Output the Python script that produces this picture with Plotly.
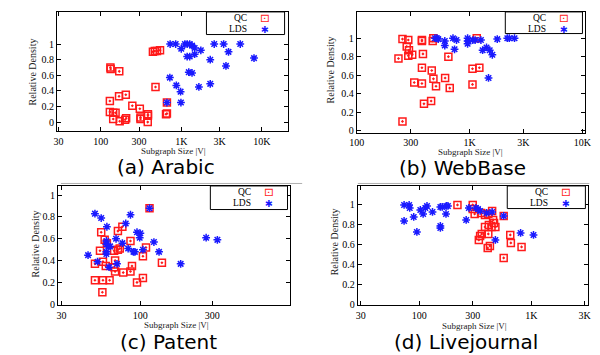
import plotly.graph_objects as go

# ---------------- data ----------------
x_tickvals = [30, 100, 300, 1000, 3000, 10000]
x_ticktext = ["30", "100", "300", "1K", "3K", "10K"]
y_tickvals = [0, 0.2, 0.4, 0.6, 0.8, 1]
y_ticktext = ["0", "0.2", "0.4", "0.6", "0.8", "1"]

arabic_qc_x = [445, 470, 500, 545, 132, 133, 170, 479, 130, 169, 205, 247, 306, 130, 143, 153,
               143, 172, 201, 207, 312, 312, 386, 386, 384, 664, 647, 664]
arabic_qc_y = [0.90, 0.91, 0.91, 0.92, 0.70, 0.68, 0.65, 0.45, 0.27, 0.33, 0.35, 0.21, 0.17, 0.13,
               0.12, 0.12, 0.04, 0.01, 0.03, 0.05, 0.06, 0.04, 0.08, 0.10, 0.0, 0.11, 0.10, 0.25]
arabic_lds_x = [728, 853, 1000, 1110, 1184, 1274, 1361, 1467, 1750, 1184, 1274, 1467, 2290, 2565,
                3360, 3860, 3590, 5400, 8000, 1240, 1361, 722, 869, 981, 1655, 2290, 664, 991]
arabic_lds_y = [1.0, 1.0, 0.94, 1.0, 1.0, 1.0, 0.98, 0.95, 0.92, 0.84, 0.84, 0.87, 0.80, 1.0,
                1.0, 0.90, 0.72, 1.0, 0.82, 0.64, 0.63, 0.57, 0.47, 0.39, 0.45, 0.49, 0.25, 0.25]

webbase_qc_x = [254, 286, 277, 290, 234, 286, 310, 378, 378, 471, 386, 649, 378, 462, 478, 607,
                323, 378, 504, 667, 456, 394, 254, 1062, 1222, 1062, 1158, 477]
webbase_qc_y = [0.99, 0.98, 0.91, 0.87, 0.78, 0.81, 0.82, 0.98, 0.97, 0.97, 0.83, 0.80, 0.68, 0.65,
                0.56, 0.57, 0.52, 0.51, 0.48, 0.46, 0.32, 0.29, 0.10, 0.67, 0.68, 0.50, 1.0, 1.0]
webbase_lds_x = [494, 514, 528, 603, 603, 713, 766, 736, 961, 961, 961, 1069, 1120, 1262, 1762,
                 2163, 2253, 2507, 1306, 1414, 1510, 1593, 1473]
webbase_lds_y = [1.0, 1.0, 0.99, 0.97, 0.92, 1.0, 0.98, 0.88, 1.0, 0.97, 0.94, 0.98, 0.98, 0.98,
                 0.99, 1.0, 1.0, 1.0, 0.87, 0.90, 0.87, 0.82, 0.57]

patent_qc_x = [115, 76, 71, 55, 58, 60, 86, 54, 67, 71, 73, 109, 104, 139, 50, 56.5, 68, 59, 67,
               68, 88, 77, 86, 50, 56.5, 62.5, 104, 95, 56]
patent_qc_y = [0.88, 0.71, 0.67, 0.66, 0.59, 0.56, 0.58, 0.49, 0.49, 0.50, 0.51, 0.52, 0.44, 0.38,
               0.37, 0.39, 0.40, 0.35, 0.34, 0.30, 0.35, 0.29, 0.30, 0.22, 0.22, 0.22, 0.24, 0.20, 0.11]
patent_lds_x = [50, 55, 60, 86, 80, 95, 100, 99, 69, 76, 59.5, 59.5, 61.5, 63, 83, 90, 92, 104,
                123, 133, 59.5, 59.5, 45, 52, 70, 62, 185, 273, 324, 115]
patent_lds_y = [0.83, 0.79, 0.71, 0.82, 0.74, 0.66, 0.65, 0.61, 0.60, 0.56, 0.58, 0.55, 0.53, 0.53,
                0.51, 0.48, 0.48, 0.50, 0.57, 0.48, 0.48, 0.46, 0.45, 0.39, 0.37, 0.34, 0.37, 0.61,
                0.59, 0.88]

lj_qc_x = [219, 300, 300, 312, 356, 386, 413, 456, 465, 478, 386, 418, 441, 413, 361, 349, 340,
           408, 427, 649, 657, 819, 567, 567, 447]
lj_qc_y = [1.0, 1.0, 0.96, 0.91, 0.92, 0.90, 0.91, 0.85, 0.82, 0.78, 0.78, 0.80, 0.78, 0.71, 0.71,
           0.69, 0.65, 0.57, 0.59, 0.70, 0.62, 0.58, 0.47, 0.89, 0.94]
lj_lds_x = [73, 81, 82, 73, 89, 95, 102, 108, 113, 117, 131, 154, 160, 174, 180, 173, 154, 154,
            262, 277, 320, 334, 349, 399, 447, 478, 567, 803, 1047]
lj_lds_y = [1.0, 1.0, 0.97, 0.84, 0.88, 0.73, 0.95, 0.91, 0.97, 0.99, 0.93, 0.98, 0.98, 0.99, 0.99,
            0.91, 0.79, 0.77, 0.85, 0.97, 0.97, 0.96, 0.94, 0.92, 0.93, 0.65, 0.89, 0.72, 0.70]

captions = ["(a) Arabic", "(b) WebBase", "(c) Patent", "(d) Livejournal"]
series_names = ["QC", "LDS"]

# ---------------- layout geometry (pixels) ----------------
W, H = 600, 355
panels = [
    dict(qx=arabic_qc_x, qy=arabic_qc_y, lx=arabic_lds_x, ly=arabic_lds_y,
         box=(42, 278, 4, 125), xr=(1.458, 4.319), yr=(-0.113, 1.412), standoff=1,
         cap=(154, 161.5), ytitle=(17, 65), xtitle=(161, 145.5), leg=(195, 275, 4, 27)),
    dict(qx=webbase_qc_x, qy=webbase_qc_y, lx=webbase_lds_x, ly=webbase_lds_y,
         box=(349, 583, 4, 127), xr=(2.0, 4.028), yr=(-0.024, 1.284), standoff=0,
         cap=(457, 162.5), ytitle=(322, 63), xtitle=(465, 146), leg=(501, 580, 4, 26)),
    dict(qx=patent_qc_x, qy=patent_qc_y, lx=patent_lds_x, ly=patent_lds_y,
         box=(43, 281, 181, 302), xr=(1.454, 2.995), yr=(-0.006, 1.084), standoff=1,
         cap=(156, 339.5), ytitle=(20, 240), xtitle=(164, 322.5), leg=(199, 278, 181, 205)),
    dict(qx=lj_qc_x, qy=lj_qc_y, lx=lj_lds_x, ly=lj_lds_y,
         box=(350, 586, 181, 302), xr=(1.45, 3.51), yr=(0.0, 1.19), standoff=1,
         cap=(461, 340), ytitle=(327, 238), xtitle=(469, 323), leg=(503, 583, 181, 204)),
]


def px(x):
    return x / W


def py(y):
    return 1 - y / H


def ann(text, x, y, font, xanchor="center", angle=0):
    return dict(text=text, x=px(x), y=py(y), xref="paper", yref="paper", showarrow=False,
                xanchor=xanchor, yanchor="middle", textangle=angle, font=font,
                borderpad=0, borderwidth=0)


fig = go.Figure()
annotations = []
shapes = []
serif = "Liberation Serif"
RED, BLUE = "#ff1a1a", "#1a1aff"

for i, p in enumerate(panels):
    k = "" if i == 0 else str(i + 1)
    xa, ya = "x" + k, "y" + k
    fig.add_trace(go.Scatter(
        x=p["qx"], y=p["qy"], mode="markers", name=series_names[0], xaxis=xa, yaxis=ya,
        showlegend=False,
        marker=dict(symbol="square-open-dot", size=7, color=RED, line=dict(width=1.5, color=RED))))
    fig.add_trace(go.Scatter(
        x=p["lx"], y=p["ly"], mode="markers", name=series_names[1], xaxis=xa, yaxis=ya,
        showlegend=False,
        marker=dict(symbol="asterisk-open", size=6.5, color=BLUE, line=dict(width=1.5, color=BLUE))))

    l, r, t, b = p["box"]
    axis_common = dict(showline=True, linecolor="black", linewidth=1, mirror="ticks",
                       ticks="inside", ticklen=4, tickcolor="black", showgrid=False,
                       zeroline=False, tickfont=dict(family=serif, size=10, color="black"))
    fig.layout["xaxis" + k] = dict(domain=[px(l), px(r)], anchor=ya, type="log",
                                   range=list(p["xr"]), tickmode="array",
                                   ticklabelstandoff=p["standoff"],
                                   tickvals=x_tickvals, ticktext=x_ticktext, **axis_common)
    fig.layout["yaxis" + k] = dict(domain=[py(b), py(t)], anchor=xa, range=list(p["yr"]),
                                   tickmode="array", tickvals=y_tickvals, ticktext=y_ticktext,
                                   **axis_common)

    annotations.append(ann("Relative Density", p["ytitle"][0], p["ytitle"][1],
                           dict(family=serif, size=10, color="#222"), angle=-90))
    annotations.append(ann("Subgraph Size |V|", p["xtitle"][0], p["xtitle"][1],
                           dict(family=serif, size=9, color="#222")))
    annotations.append(ann(captions[i], p["cap"][0], p["cap"][1],
                           dict(family="DejaVu Sans", size=20, color="black")))
    # legend box (gnuplot style: label then sample)
    gl, gr, gt, gb = p["leg"]
    shapes.append(dict(type="rect", xref="paper", yref="paper", x0=px(gl), x1=px(gr),
                       y0=py(gb), y1=py(gt), line=dict(color="black", width=1),
                       fillcolor="white"))
    rows = [gt + 6, gt + 17.5]
    syms = [("⊡", RED, 11.5), ("✱", BLUE, 9.5)]
    for j in range(2):
        annotations.append(ann(series_names[j], gl + 42, rows[j],
                               dict(family=serif, size=9.5, color="black"), xanchor="right"))
        annotations.append(ann(syms[j][0], gl + 60, rows[j],
                               dict(family="DejaVu Sans", size=syms[j][2], color=syms[j][1])))

# separators under top row captions
shapes.append(dict(type="line", xref="paper", yref="paper", x0=px(46), x1=px(293),
                   y0=py(178.5), y1=py(178.5), line=dict(color="#b0b0b0", width=1)))
shapes.append(dict(type="line", xref="paper", yref="paper", x0=px(350), x1=px(587),
                   y0=py(178.5), y1=py(178.5), line=dict(color="#b0b0b0", width=1)))

fig.update_layout(width=W, height=H, margin=dict(l=0, r=0, t=0, b=0),
                  paper_bgcolor="white", plot_bgcolor="white",
                  annotations=annotations, shapes=shapes, showlegend=False)

fig.write_html("out.html")
